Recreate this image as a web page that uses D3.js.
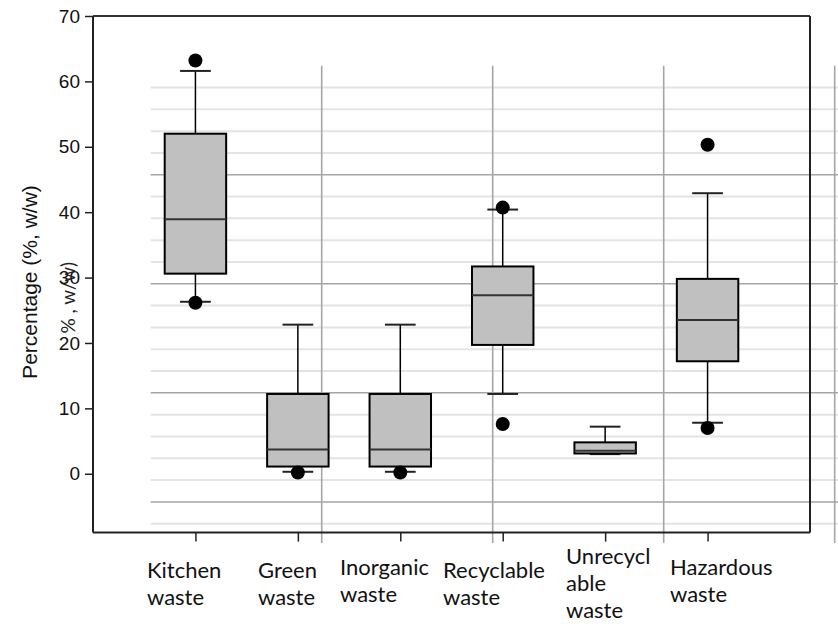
<!DOCTYPE html>
<html><head><meta charset="utf-8">
<script src="https://cdn.jsdelivr.net/npm/d3@7"></script>
<style>
html,body{margin:0;padding:0;background:#fff;}
svg{display:block;}
</style></head>
<body>
<svg id="chart" width="838" height="624"></svg>
<script>
// ---- data ----
const categories = ["Kitchen waste","Green waste","Inorganic waste","Recyclable waste","Unrecyclable waste","Hazardous waste"];
const labelLines = [["Kitchen","waste"],["Green","waste"],["Inorganic","waste"],["Recyclable","waste"],["Unrecycl","able","waste"],["Hazardous","waste"]];
const whiskerLow  = [26.3, 0.3, 0.3, 12.2, 3.0, 7.8];
const q1          = [30.6, 1.1, 1.1, 19.7, 3.1, 17.2];
const median      = [38.9, 3.7, 3.7, 27.3, 3.5, 23.5];
const q3          = [52.0, 12.2, 12.2, 31.7, 4.8, 29.8];
const whiskerHigh = [61.6, 22.8, 22.8, 40.4, 7.2, 42.9];
const outliers    = [[63.2, 26.15],[0.2],[0.2],[40.7, 7.6],[],[50.3, 7.0]];
const yTicks = [0,10,20,30,40,50,60,70];
const yLabel = "Percentage (%, w/w)";
const ghostLabel = "% , w/w)";

// ---- layout ----
const svg = d3.select("#chart");
const L = 93, R = 810, T = 16, B = 532.6;
const y = d3.scaleLinear().domain([-9, 70]).range([B, T]);
const x = d3.scaleLinear().domain([0, categories.length + 1]).range([L, R]);
const step = x(1) - x(0);
const boxW = step * 0.6, capW = step * 0.3;

// background ghost grid (behind the plot)
const gy = d3.scaleLinear().domain([0, 22]).range([545.5, 65.7]);
const gx = d3.scaleLinear().domain([0, 4]).range([150.7, 834.7]);
const bg = svg.append("g");
d3.range(1, 22).forEach(v => {
  const major = (v % 5 === 2);
  bg.append("line").attr("x1", gx(0)).attr("x2", 838)
    .attr("y1", gy(v)).attr("y2", gy(v))
    .attr("stroke", major ? "#a9a3a3" : "#e4e4e4")
    .attr("stroke-width", major ? 1.5 : 2);
});
d3.range(1, 5).forEach(v => {
  bg.append("line").attr("x1", gx(v)).attr("x2", gx(v))
    .attr("y1", gy(22)).attr("y2", 543)
    .attr("stroke", "#aaa4a4").attr("stroke-width", 1.6);
});

// boxes
const g = svg.append("g");
categories.forEach((c, i) => {
  const cx = x(i + 1);
  g.append("line").attr("x1", cx).attr("x2", cx).attr("y1", y(q3[i])).attr("y2", y(whiskerHigh[i]))
    .attr("stroke", "#000").attr("stroke-width", 1.5);
  g.append("line").attr("x1", cx).attr("x2", cx).attr("y1", y(q1[i])).attr("y2", y(whiskerLow[i]))
    .attr("stroke", "#000").attr("stroke-width", 1.5);
  [whiskerHigh[i], whiskerLow[i]].forEach(v => {
    g.append("line").attr("x1", cx - capW/2).attr("x2", cx + capW/2).attr("y1", y(v)).attr("y2", y(v))
      .attr("stroke", "#222").attr("stroke-width", 2);
  });
  g.append("rect").attr("x", cx - boxW/2).attr("y", y(q3[i]))
    .attr("width", boxW).attr("height", y(q1[i]) - y(q3[i]))
    .attr("fill", "#c0c0c0").attr("stroke", "#000").attr("stroke-width", 2);
  g.append("line").attr("x1", cx - boxW/2).attr("x2", cx + boxW/2).attr("y1", y(median[i])).attr("y2", y(median[i]))
    .attr("stroke", "#333").attr("stroke-width", 2);
  outliers[i].forEach(v => {
    g.append("circle").attr("cx", cx).attr("cy", y(v)).attr("r", 7).attr("fill", "#000");
  });
});

// frame
svg.append("line").attr("x1", L).attr("x2", R).attr("y1", T).attr("y2", T).attr("stroke", "#333").attr("stroke-width", 2);
svg.append("line").attr("x1", R).attr("x2", R).attr("y1", T).attr("y2", B).attr("stroke", "#222").attr("stroke-width", 2);

// axes
const yAxis = d3.axisLeft(y).tickValues(yTicks).tickSize(8).tickPadding(5);
const ya = svg.append("g").attr("transform", `translate(${L},0)`).call(yAxis);
ya.select(".domain").attr("d", `M-0,${T}V${B}`).attr("stroke", "#222").attr("stroke-width", 2);
ya.selectAll(".tick line").attr("stroke", "#222").attr("stroke-width", 1.5);
ya.selectAll(".tick text").attr("font-family", "Liberation Sans, Arial, sans-serif").attr("font-size", 19).attr("fill", "#111");

const xAxis = d3.axisBottom(x).tickValues(d3.range(1, categories.length + 1)).tickSize(9).tickFormat("");
const xa = svg.append("g").attr("transform", `translate(0,${B})`).call(xAxis);
xa.select(".domain").attr("d", `M${L},0H${R}`).attr("stroke", "#222").attr("stroke-width", 2);
xa.selectAll(".tick line").attr("stroke", "#222").attr("stroke-width", 1.5);

// category labels (left-aligned, Calibri-like)
const labelLeft = [147, 258, 340, 443, 566, 670];
const labelTop  = [578, 578, 575, 578, 564, 575];
categories.forEach((c, i) => {
  const t = svg.append("text").attr("font-family", "Lato, 'Open Sans', sans-serif").attr("font-size", 22)
    .attr("fill", "#111");
  labelLines[i].forEach((ln, k) => {
    t.append("tspan").attr("x", labelLeft[i]).attr("y", labelTop[i] + k * 27).text(ln);
  });
});

// y label
svg.append("text").attr("transform", `translate(37,${(182+382)/2}) rotate(-90)`)
  .attr("text-anchor", "middle").attr("font-family", "Liberation Sans, Arial, sans-serif")
  .attr("font-size", 21).attr("fill", "#111").text(yLabel);
// ghost label
svg.append("text").attr("transform", `translate(75,262) rotate(-90)`)
  .attr("text-anchor", "end").attr("font-family", "Lato, 'Open Sans', sans-serif")
  .attr("font-size", 19).attr("fill", "#222").text(ghostLabel);
</script>
</body></html>
